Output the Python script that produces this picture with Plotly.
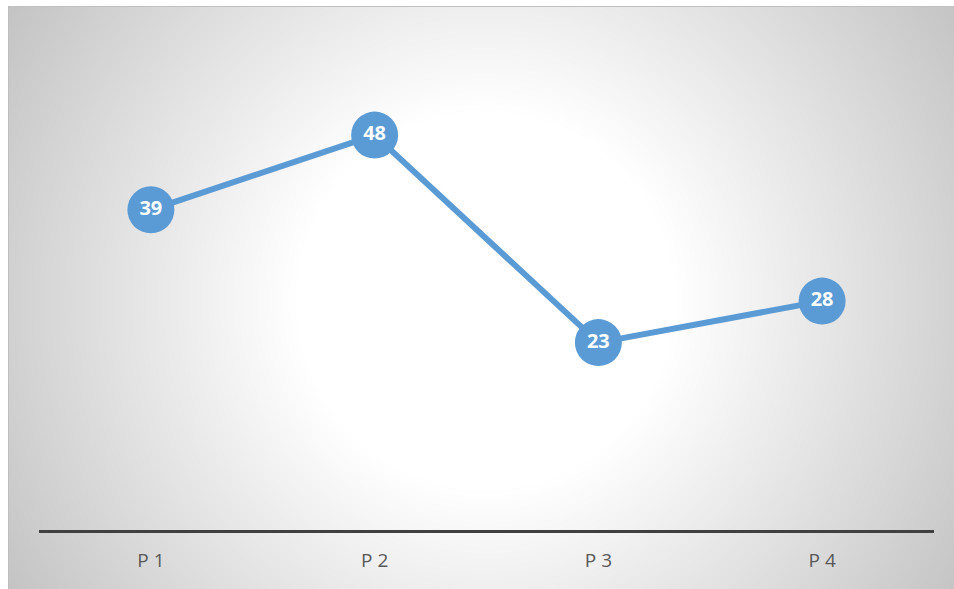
import base64
import struct
import zlib

import numpy as np
import plotly.graph_objects as go

# ---- data ----
categories = ["P 1", "P 2", "P 3", "P 4"]
values = [39, 48, 23, 28]

# ---- figure geometry (pixels) ----
W, H = 954, 589
L, R, T, B = 39, 20, 33, 59
PW, PH = W - L - R, H - T - B

# ---- radial gradient background as PNG ----
bx0, by0 = 8, 6
iw, ih = W - bx0, H - by0
yy, xx = np.mgrid[0:ih, 0:iw]
cx, cy = 485 - bx0, 300 - by0
r = np.sqrt((xx - cx) ** 2 + (yy - cy) ** 2)
v = 255 - 0.16 * np.clip(r - 190, 0, None)
v = np.clip(v, 0, 255)
img = np.stack([v, v, v], axis=-1).astype(np.uint8)
# thin border at top and left
img[0:1, :, :] = 192
img[:, 0:1, :] = 190


def png_bytes(arr):
    h, w, _ = arr.shape
    raw = b"".join(b"\x00" + arr[i].tobytes() for i in range(h))

    def chunk(tag, data):
        c = tag + data
        return struct.pack(">I", len(data)) + c + struct.pack(">I", zlib.crc32(c) & 0xFFFFFFFF)

    return (b"\x89PNG\r\n\x1a\n"
            + chunk(b"IHDR", struct.pack(">IIBBBBB", w, h, 8, 2, 0, 0, 0))
            + chunk(b"IDAT", zlib.compress(raw, 9))
            + chunk(b"IEND", b""))


src = "data:image/png;base64," + base64.b64encode(png_bytes(img)).decode()

fig = go.Figure()
fig.add_trace(go.Scatter(
    x=categories,
    y=values,
    mode="lines+markers+text",
    line=dict(color="#5B9BD5", width=6),
    marker=dict(color="#5B9BD5", size=47, line=dict(width=0)),
    text=[str(v_) for v_ in values],
    textposition="middle center",
    textfont=dict(family="Open Sans", size=20, color="white", weight="bold"),
    hoverinfo="skip",
    cliponaxis=False,
))

fig.add_layout_image(dict(
    source=src,
    xref="paper", yref="paper",
    x=(bx0 - L) / PW, y=(H - B - by0) / PH,
    sizex=iw / PW, sizey=ih / PH,
    xanchor="left", yanchor="top",
    sizing="stretch", layer="below",
))

fig.update_layout(
    width=W, height=H,
    margin=dict(l=L, r=R, t=T, b=B, pad=0),
    paper_bgcolor="white",
    plot_bgcolor="rgba(0,0,0,0)",
    showlegend=False,
    xaxis=dict(
        type="category",
        range=[-0.5, 3.5],
        showgrid=False, zeroline=False,
        showline=True, linecolor="#404040", linewidth=3,
        ticks="",
        tickfont=dict(family="Open Sans", size=19, color="#595959"),
        ticklabelstandoff=11,
        automargin=False,
        fixedrange=True,
    ),
    yaxis=dict(
        range=[0.42, 60.3],
        showgrid=False, zeroline=False, showline=False,
        showticklabels=False, ticks="",
        automargin=False,
        fixedrange=True,
    ),
)

fig.write_html("out.html")
